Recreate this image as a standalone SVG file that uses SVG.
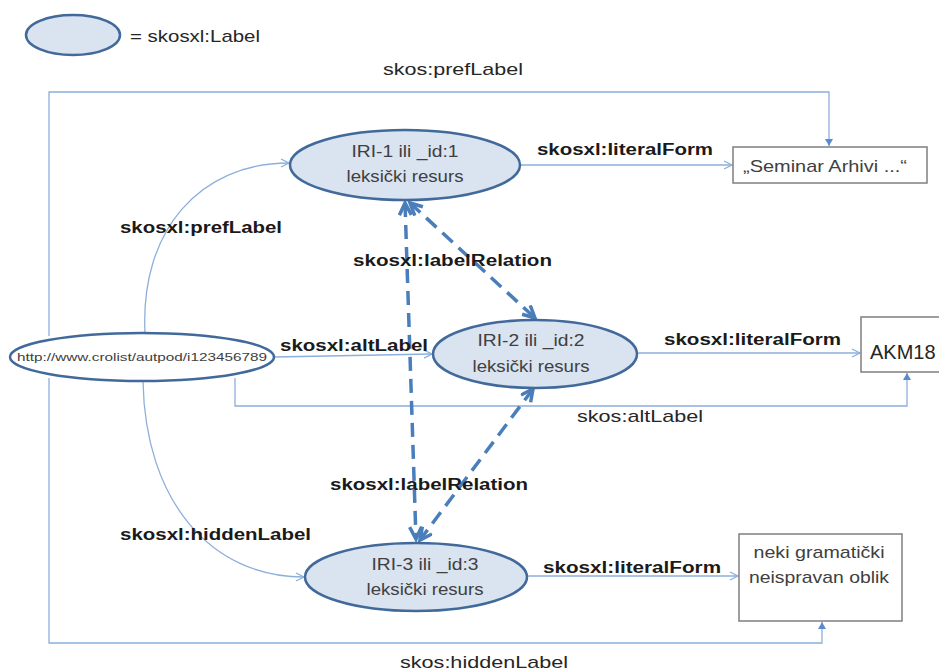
<svg xmlns="http://www.w3.org/2000/svg" width="939" height="671" viewBox="0 0 939 671">
<style>
.lbl{fill:#DAE3F0;stroke:#41699A;stroke-width:2.5}
.uri{fill:#FFFFFF;stroke:#41699A;stroke-width:2.5}
.box{fill:#FFFFFF;stroke:#7F7F7F;stroke-width:1.5}
.thin{fill:none;stroke:#8DAFDC;stroke-width:1.3}
.dash{fill:none;stroke:#4A7EBB;stroke-width:3.5;stroke-dasharray:14 8}
text{font-family:"Liberation Sans",Arial,sans-serif}
.b{font-weight:bold;font-size:16px;fill:#1A1A1A}
.n{font-size:17px;fill:#262626}
.t{font-size:17px;fill:#404040;text-anchor:middle}
</style>
<defs>
<marker id="open" markerUnits="userSpaceOnUse" markerWidth="12" markerHeight="12" refX="9" refY="5" orient="auto">
<path d="M1,1 L9,5 L1,9" fill="none" stroke="#8DAFDC" stroke-width="1.3"/>
</marker>
<marker id="tri" markerUnits="userSpaceOnUse" markerWidth="10" markerHeight="10" refX="7" refY="4" orient="auto">
<path d="M0,0 L7,4 L0,8 Z" fill="#5B8BCB"/>
</marker>
<marker id="dh" markerUnits="userSpaceOnUse" markerWidth="18" markerHeight="18" refX="13" refY="7" orient="auto-start-reverse">
<path d="M1,1 L13,7 L1,13" fill="none" stroke="#4A7EBB" stroke-width="3.5"/>
</marker>
</defs>

<g id="legend">
<ellipse class="lbl" cx="73" cy="35" rx="47" ry="20"/>
<text class="n" x="130" y="42" textLength="130" lengthAdjust="spacingAndGlyphs">= skosxl:Label</text>
</g>

<g id="connectors">
<!-- skos:prefLabel -->
<path class="thin" d="M49,336 V92 H829 V146" marker-end="url(#tri)"/>
<!-- skos:hiddenLabel -->
<path class="thin" d="M49,378 V643 H822 V622" marker-end="url(#tri)"/>
<!-- skos:altLabel -->
<path class="thin" d="M235,378 V406 H907 V373" marker-end="url(#tri)"/>
<!-- skosxl:prefLabel -->
<path class="thin" d="M145,333 C140,230 200,163 289,163" marker-end="url(#open)"/>
<!-- skosxl:hiddenLabel -->
<path class="thin" d="M143,381 C145,500 210,577 304,577" marker-end="url(#open)"/>
<!-- skosxl:altLabel -->
<path class="thin" d="M275,357 L432,354" marker-end="url(#open)"/>
<!-- literalForm -->
<path class="thin" d="M520,165 H732" marker-end="url(#open)"/>
<path class="thin" d="M637,353 H860" marker-end="url(#open)"/>
<path class="thin" d="M528,576 H738" marker-end="url(#open)"/>
<!-- labelRelation -->
<path class="dash" d="M405,203 L416,539" marker-start="url(#dh)" marker-end="url(#dh)"/>
<path class="dash" d="M410,203 L535,318" marker-start="url(#dh)" marker-end="url(#dh)"/>
<path class="dash" d="M533,389 L420,540" marker-start="url(#dh)" marker-end="url(#dh)"/>

<text class="n" x="383" y="75" textLength="140" lengthAdjust="spacingAndGlyphs">skos:prefLabel</text>
<text class="n" x="577" y="422" textLength="126" lengthAdjust="spacingAndGlyphs">skos:altLabel</text>
<text class="n" x="400" y="668" textLength="168" lengthAdjust="spacingAndGlyphs">skos:hiddenLabel</text>
<text class="b" x="120" y="233" textLength="162" lengthAdjust="spacingAndGlyphs">skosxl:prefLabel</text>
<text class="b" x="280" y="351" textLength="148" lengthAdjust="spacingAndGlyphs">skosxl:altLabel</text>
<text class="b" x="120" y="540" textLength="191" lengthAdjust="spacingAndGlyphs">skosxl:hiddenLabel</text>
<text class="b" x="353" y="266" textLength="199" lengthAdjust="spacingAndGlyphs">skosxl:labelRelation</text>
<text class="b" x="330" y="490" textLength="198" lengthAdjust="spacingAndGlyphs">skosxl:labelRelation</text>
<text class="b" x="537" y="155" textLength="176" lengthAdjust="spacingAndGlyphs">skosxl:literalForm</text>
<text class="b" x="664" y="345" textLength="177" lengthAdjust="spacingAndGlyphs">skosxl:literalForm</text>
<text class="b" x="543" y="573" textLength="178" lengthAdjust="spacingAndGlyphs">skosxl:literalForm</text>
</g>

<g id="uri">
<ellipse class="uri" cx="142" cy="357" rx="132" ry="24"/>
<text x="142" y="361" style="font-size:11px;fill:#404040;text-anchor:middle" textLength="250" lengthAdjust="spacingAndGlyphs">http://www.crolist/autpod/i123456789</text>
</g>

<g id="iri1">
<ellipse class="lbl" cx="405" cy="165" rx="115" ry="35"/>
<text class="t" x="405" y="157" textLength="107" lengthAdjust="spacingAndGlyphs">IRI-1 ili _id:1</text>
<text class="t" x="405" y="182" textLength="117" lengthAdjust="spacingAndGlyphs">leksički resurs</text>
</g>

<g id="iri2">
<ellipse class="lbl" cx="535" cy="354" rx="102" ry="34"/>
<text class="t" x="531" y="346" textLength="107" lengthAdjust="spacingAndGlyphs">IRI-2 ili _id:2</text>
<text class="t" x="531" y="372" textLength="117" lengthAdjust="spacingAndGlyphs">leksički resurs</text>
</g>

<g id="iri3">
<ellipse class="lbl" cx="416" cy="577" rx="111" ry="34"/>
<text class="t" x="425" y="570" textLength="107" lengthAdjust="spacingAndGlyphs">IRI-3 ili _id:3</text>
<text class="t" x="425" y="595" textLength="117" lengthAdjust="spacingAndGlyphs">leksički resurs</text>
</g>

<g id="lit1">
<rect class="box" x="733" y="147" width="194" height="36"/>
<text x="743" y="172" style="font-size:17px;fill:#404040" textLength="164" lengthAdjust="spacingAndGlyphs">„Seminar Arhivi ...“</text>
</g>

<g id="lit2">
<rect class="box" x="861" y="317" width="90" height="55"/>
<text x="870" y="359" style="font-size:20px;fill:#262626">AKM18</text>
</g>

<g id="lit3">
<rect class="box" x="739" y="534" width="163" height="87"/>
<text class="t" x="819" y="558" textLength="131" lengthAdjust="spacingAndGlyphs">neki gramatički</text>
<text class="t" x="819" y="583" textLength="140" lengthAdjust="spacingAndGlyphs">neispravan oblik</text>
</g>
</svg>
